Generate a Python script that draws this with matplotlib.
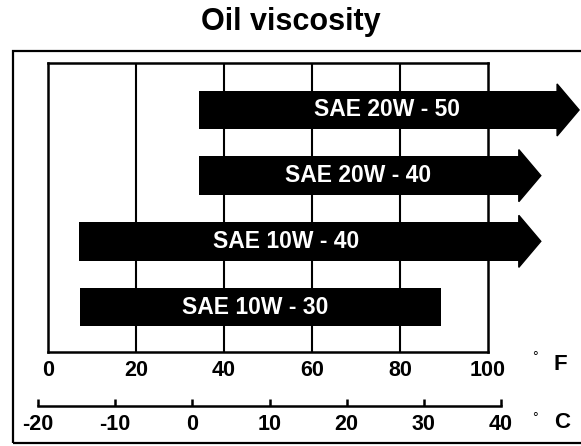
import matplotlib
matplotlib.use("Agg")
import matplotlib.pyplot as plt
from matplotlib.patches import Polygon, Rectangle

plt.rcParams['font.family'] = ['Liberation Sans', 'DejaVu Sans']

# ---- data ----
oils = ["SAE 10W - 30", "SAE 10W - 40", "SAE 20W - 40", "SAE 20W - 50"]
start_f = [7.3, 7.1, 34.3, 34.3]          # lower temperature limit (deg F)
end_f = [89.4, 107.2, 107.2, 115.9]       # end of bar body (deg F)
has_arrow = [False, True, True, True]     # open-ended range
label_f = [47.0, 54.2, 70.4, 77.0]        # label centre (deg F)
f_ticks = [0, 20, 40, 60, 80, 100]
c_ticks = [-20, -10, 0, 10, 20, 30, 40]

W, H = 581, 446
fig = plt.figure(figsize=(W / 100, H / 100), dpi=100)

def fx(x):
    return x / W

def fy(y):
    return 1 - y / H

# outer frame
fig.patches.append(Rectangle((fx(13), fy(443)), fx(600) - fx(13), fy(51) - fy(443),
                             transform=fig.transFigure, fill=False, lw=1.6,
                             edgecolor='black', figure=fig))

# main Fahrenheit axes
ax = fig.add_axes([fx(48), fy(352), fx(488) - fx(48), fy(63) - fy(352)])
ax.set_xlim(0, 100)
ax.set_ylim(-0.685, 3.715)
for s in ax.spines.values():
    s.set_linewidth(1.8)
for v in f_ticks[1:-1]:
    ax.axvline(v, color='black', lw=1.5, zorder=1)

bar_h = 0.586
head_half = 0.396
head_len = 4.8
for i, (name, s, e, arr, lx) in enumerate(zip(oils, start_f, end_f, has_arrow, label_f)):
    ax.barh(i, e - s, left=s, height=bar_h, color='black', zorder=3, clip_on=False)
    if arr:
        ax.add_patch(Polygon([(e - 0.2, i - head_half), (e + head_len, i), (e - 0.2, i + head_half)],
                             closed=True, color='black', zorder=3, clip_on=False))
    ax.text(lx, i, name, color='white', ha='center', va='center',
            fontsize=16.5, fontweight='bold', zorder=4)

ax.set_yticks([])
ax.set_xticks(f_ticks)
ax.set_xticklabels([str(t) for t in f_ticks], fontsize=15.5, fontweight='bold')
ax.tick_params(axis='x', length=0, pad=5.5)

# Celsius axis
cax = fig.add_axes([fx(38), fy(406), fx(501) - fx(38), 0.01])
cax.set_xlim(-20, 40)
cax.patch.set_alpha(0)
for k in ['top', 'left', 'right']:
    cax.spines[k].set_visible(False)
cax.spines['bottom'].set_linewidth(1.8)
cax.set_yticks([])
cax.set_xticks(c_ticks)
cax.set_xticklabels([str(t) for t in c_ticks], fontsize=15.5, fontweight='bold')
cax.tick_params(axis='x', direction='in', length=5, width=1.8, pad=5.5)

# unit labels
fig.text(fx(535), fy(357), "°", ha='center', va='center', fontsize=10)
fig.text(fx(560), fy(365), "F", ha='center', va='center', fontsize=16, fontweight='bold')
fig.text(fx(535), fy(418), "°", ha='center', va='center', fontsize=10)
fig.text(fx(562), fy(423), "C", ha='center', va='center', fontsize=16, fontweight='bold')

fig.text(fx(291), fy(22), "Oil viscosity", ha='center', va='center',
         fontsize=22, fontweight='bold')

fig.savefig("out.png", dpi=100)
